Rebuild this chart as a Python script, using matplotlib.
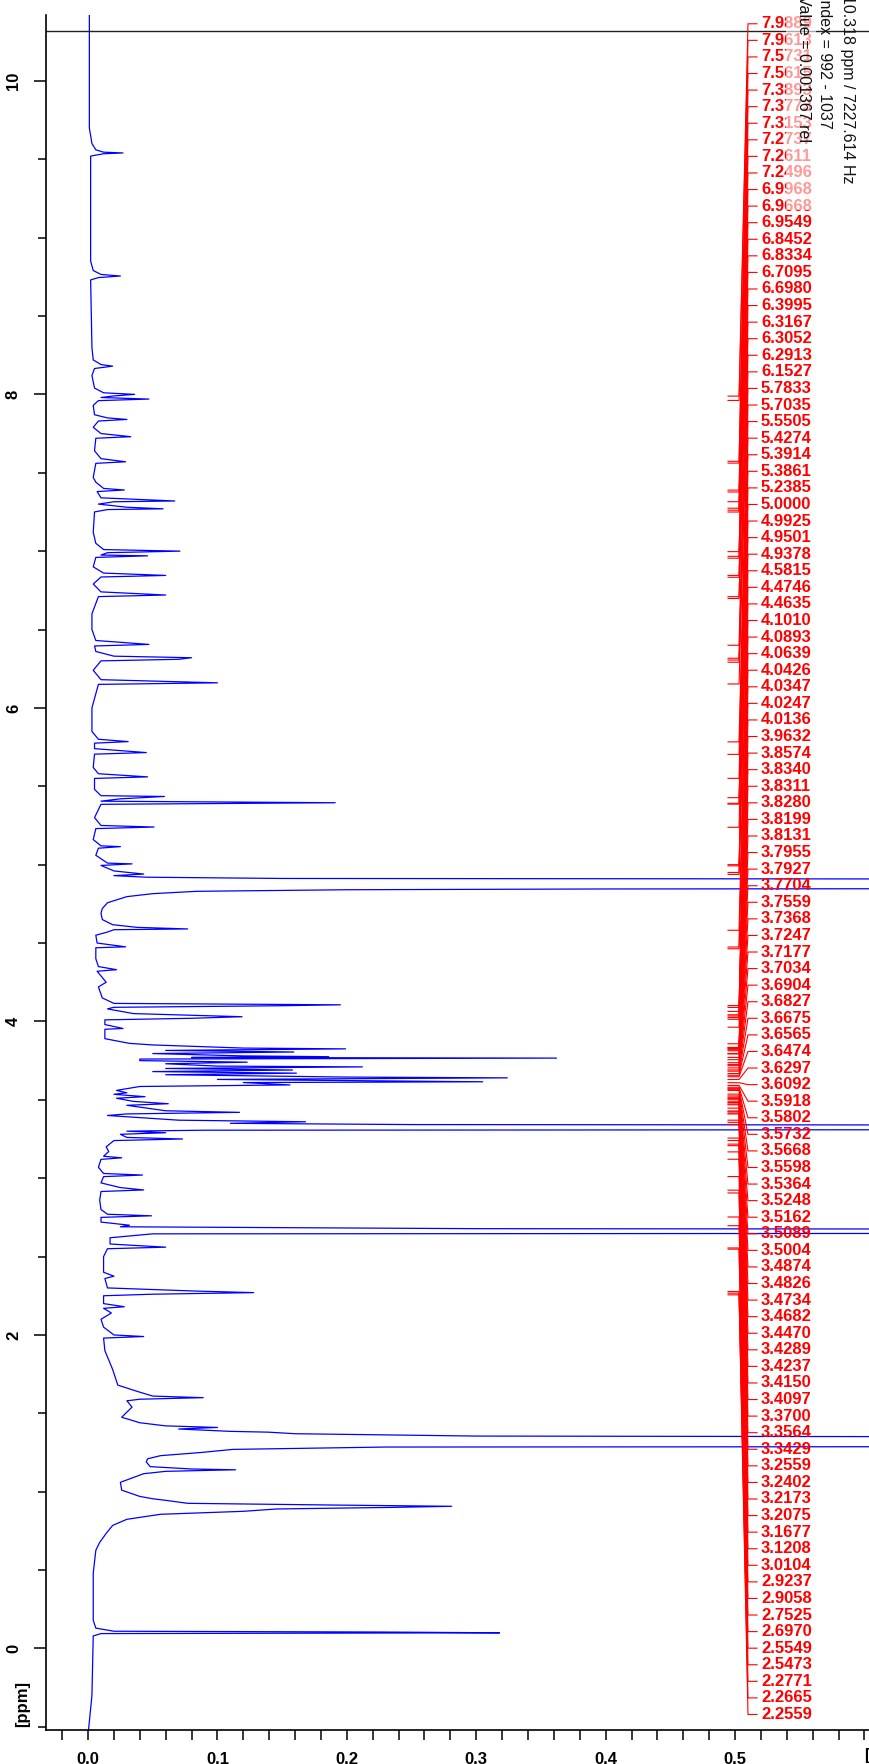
import numpy as np
import matplotlib
matplotlib.use("Agg")
import matplotlib.pyplot as plt
from matplotlib.patches import Rectangle
from matplotlib.ticker import MultipleLocator, FixedLocator, FuncFormatter

plt.rcParams['font.family'] = ['Liberation Sans', 'DejaVu Sans']

# spectrum trace: chemical shift [ppm] and intensity [rel]
trace_ppm = [
    10.45, 9.70, 9.60, 9.56, 9.545, 9.54, 9.535, 9.52,
    8.85, 8.79, 8.765, 8.755, 8.745, 8.73,
    8.30, 8.22, 8.19, 8.18, 8.165, 8.12,
    8.04, 8.01, 8.00, 7.99, 7.98, 7.97, 7.96, 7.93,
    7.87, 7.85, 7.84, 7.83, 7.79, 7.75, 7.73, 7.72,
    7.64, 7.59, 7.57, 7.56, 7.47, 7.44, 7.40, 7.39, 7.38,
    7.34, 7.32, 7.315, 7.30, 7.28, 7.27, 7.265, 7.25,
    7.12, 7.05, 7.01, 7.00, 6.99, 6.975, 6.97, 6.96,
    6.90, 6.86, 6.845, 6.835, 6.79, 6.74, 6.72, 6.71,
    6.60, 6.50, 6.43, 6.405, 6.395, 6.36, 6.33, 6.32, 6.31, 6.30,
    6.24, 6.18, 6.16, 6.15, 6.00,
    5.85, 5.80, 5.785, 5.775, 5.74, 5.715, 5.705,
    5.62, 5.58, 5.56, 5.55, 5.48, 5.44, 5.435, 5.42, 5.405, 5.395, 5.385,
    5.30, 5.25, 5.24, 5.23, 5.16, 5.12, 5.115, 5.105,
    5.06, 5.01, 5.005, 4.995, 4.96, 4.94, 4.93, 4.92, 4.912,
    4.905, 4.875, 4.85, 4.845, 4.84, 4.83, 4.815, 4.796, 4.757, 4.72, 4.69, 4.65,
    4.617, 4.60, 4.59, 4.585, 4.57, 4.55, 4.50, 4.476, 4.47,
    4.40, 4.35, 4.33, 4.32, 4.25, 4.22, 4.15,
    4.115, 4.106, 4.10, 4.09, 4.08, 4.05, 4.03, 4.02, 4.01,
    3.98, 3.955, 3.95, 3.89, 3.86, 3.85,
    3.83, 3.825, 3.815, 3.805, 3.795, 3.78, 3.775, 3.77, 3.766, 3.76,
    3.75, 3.74, 3.73, 3.715, 3.71, 3.70, 3.69, 3.68, 3.67, 3.66,
    3.645, 3.64, 3.63, 3.615, 3.61, 3.595, 3.585,
    3.56, 3.545, 3.535, 3.52, 3.51, 3.49, 3.475, 3.465,
    3.43, 3.42, 3.41, 3.40, 3.37, 3.36, 3.35, 3.342,
    3.336, 3.312, 3.306, 3.30, 3.29, 3.28, 3.26, 3.25, 3.24,
    3.20, 3.17, 3.14, 3.13, 3.12, 3.07, 3.03, 3.02, 3.01,
    2.97, 2.94, 2.925, 2.915, 2.86, 2.80, 2.77, 2.76, 2.75,
    2.72, 2.70, 2.69, 2.678, 2.672, 2.65, 2.645, 2.62, 2.58, 2.56, 2.55,
    2.50, 2.40, 2.375, 2.36, 2.30, 2.28, 2.27, 2.26, 2.25,
    2.20, 2.18, 2.17, 2.14, 2.10, 2.05, 2.00, 1.99, 1.98,
    1.90, 1.78, 1.68, 1.64, 1.61, 1.60, 1.59, 1.58, 1.54, 1.475,
    1.44, 1.42, 1.41, 1.40, 1.385, 1.38, 1.37, 1.355,
    1.345, 1.29, 1.285, 1.27, 1.25, 1.23, 1.21, 1.19, 1.16,
    1.145, 1.14, 1.13, 1.115, 1.06, 1.01, 0.97, 0.955, 0.945,
    0.926, 0.915, 0.907, 0.90, 0.89, 0.875, 0.856, 0.824, 0.785,
    0.734, 0.677, 0.626, 0.48, 0.18, 0.13, 0.11, 0.105, 0.10,
    0.095, 0.08, -0.30, -0.55,
]
trace_int = [
    0.001, 0.001, 0.003, 0.006, 0.012, 0.027, 0.012, 0.002,
    0.002, 0.004, 0.010, 0.025, 0.008, 0.002,
    0.003, 0.004, 0.010, 0.019, 0.005, 0.003,
    0.005, 0.012, 0.036, 0.020, 0.010, 0.047, 0.008, 0.004,
    0.005, 0.015, 0.030, 0.008, 0.004, 0.010, 0.033, 0.006,
    0.005, 0.010, 0.029, 0.006, 0.004, 0.006, 0.012, 0.028, 0.007,
    0.010, 0.067, 0.020, 0.008, 0.030, 0.058, 0.015, 0.005,
    0.004, 0.006, 0.012, 0.071, 0.015, 0.010, 0.046, 0.006,
    0.004, 0.012, 0.060, 0.010, 0.004, 0.010, 0.060, 0.008,
    0.003, 0.003, 0.006, 0.047, 0.005, 0.006, 0.020, 0.080, 0.070, 0.010,
    0.004, 0.010, 0.100, 0.008, 0.003,
    0.003, 0.008, 0.031, 0.005, 0.005, 0.045, 0.005,
    0.004, 0.008, 0.046, 0.005, 0.005, 0.010, 0.059, 0.025, 0.010, 0.191, 0.010,
    0.005, 0.010, 0.051, 0.006, 0.004, 0.010, 0.025, 0.008,
    0.006, 0.015, 0.034, 0.010, 0.020, 0.043, 0.020, 0.045, 0.150,
    1.200, 1.200, 1.200, 0.400, 0.200, 0.084, 0.050, 0.030, 0.015, 0.011, 0.010, 0.011,
    0.019, 0.038, 0.077, 0.020, 0.015, 0.006, 0.007, 0.029, 0.006,
    0.006, 0.008, 0.022, 0.007, 0.014, 0.008, 0.011,
    0.020, 0.195, 0.148, 0.020, 0.015, 0.035, 0.119, 0.080, 0.013,
    0.013, 0.027, 0.013, 0.013, 0.032, 0.050,
    0.120, 0.199, 0.060, 0.159, 0.050, 0.120, 0.186, 0.080, 0.362, 0.040,
    0.040, 0.123, 0.060, 0.100, 0.212, 0.060, 0.158, 0.050, 0.161, 0.060,
    0.200, 0.324, 0.100, 0.305, 0.120, 0.156, 0.040,
    0.022, 0.030, 0.020, 0.044, 0.022, 0.035, 0.062, 0.030,
    0.060, 0.117, 0.030, 0.015, 0.070, 0.168, 0.110, 0.250,
    1.200, 1.200, 0.090, 0.030, 0.060, 0.025, 0.030, 0.073, 0.020,
    0.014, 0.016, 0.012, 0.026, 0.010, 0.008, 0.012, 0.042, 0.012,
    0.010, 0.025, 0.043, 0.010, 0.009, 0.010, 0.015, 0.049, 0.010,
    0.010, 0.032, 0.025, 0.300, 1.200, 1.200, 0.050, 0.017, 0.017, 0.060, 0.015,
    0.012, 0.012, 0.020, 0.013, 0.015, 0.083, 0.128, 0.050, 0.012,
    0.012, 0.028, 0.012, 0.018, 0.010, 0.012, 0.020, 0.043, 0.012,
    0.013, 0.019, 0.023, 0.038, 0.050, 0.089, 0.040, 0.030, 0.034, 0.026,
    0.040, 0.060, 0.100, 0.070, 0.110, 0.139, 0.160, 0.300,
    1.200, 1.200, 0.230, 0.112, 0.087, 0.056, 0.046, 0.045, 0.048,
    0.080, 0.114, 0.060, 0.043, 0.025, 0.026, 0.040, 0.050, 0.060,
    0.077, 0.190, 0.281, 0.235, 0.146, 0.120, 0.056, 0.030, 0.019,
    0.014, 0.009, 0.006, 0.004, 0.004, 0.006, 0.020, 0.226, 0.318,
    0.010, 0.004, 0.003, 0.000,
]

# picked peaks (labels on the right)
peak_labels = [
    7.9889, 7.9613, 7.5731, 7.5615, 7.3893, 7.3773, 7.3153, 7.2737, 7.2611, 7.2496,
    6.9968, 6.9668, 6.9549, 6.8452, 6.8334, 6.7095, 6.6980, 6.3995, 6.3167, 6.3052,
    6.2913, 6.1527, 5.7833, 5.7035, 5.5505, 5.4274, 5.3914, 5.3861, 5.2385, 5.0000,
    4.9925, 4.9501, 4.9378, 4.5815, 4.4746, 4.4635, 4.1010, 4.0893, 4.0639, 4.0426,
    4.0347, 4.0247, 4.0136, 3.9632, 3.8574, 3.8340, 3.8311, 3.8280, 3.8199, 3.8131,
    3.7955, 3.7927, 3.7704, 3.7559, 3.7368, 3.7247, 3.7177, 3.7034, 3.6904, 3.6827,
    3.6675, 3.6565, 3.6474, 3.6297, 3.6092, 3.5918, 3.5802, 3.5732, 3.5668, 3.5598,
    3.5364, 3.5248, 3.5162, 3.5089, 3.5004, 3.4874, 3.4826, 3.4734, 3.4682, 3.4470,
    3.4289, 3.4237, 3.4150, 3.4097, 3.3700, 3.3564, 3.3429, 3.2559, 3.2402, 3.2173,
    3.2075, 3.1677, 3.1208, 3.0104, 2.9237, 2.9058, 2.7525, 2.6970, 2.5549, 2.5473,
    2.2771, 2.2665, 2.2559,
]

cursor_ppm = 10.318
header_lines = ["10.318 ppm / 7227.614 Hz", "Index = 992 - 1037", "Value = 0.001367 rel"]

fig = plt.figure(figsize=(8.7, 17.64), dpi=100)
ax = fig.add_axes([46 / 870, 1 - 1730 / 1764, 1 - 46 / 870, (1730 - 15) / 1764])

ax.plot(trace_int, trace_ppm, color="#0000ff", lw=0.9)
ax.axhline(cursor_ppm, color="#222222", lw=1.0)

ax.set_xlim(-0.0325, 0.6043)
ax.set_ylim(-0.52, 10.42)

# peak picking leaders + labels
n = len(peak_labels)
label_y = np.linspace(10.364, -0.421, n)
for p, ly in zip(peak_labels, label_y):
    ax.plot([0.4946, 0.5031, 0.5100, 0.5170], [p, p, ly, ly],
            color="red", lw=0.8, clip_on=False)
    ax.text(0.5200, ly, f"{p:.4f}", color="red", fontsize=12, fontweight="bold",
            va="center", ha="left", clip_on=False)

# axes styling
for s in ["top", "right"]:
    ax.spines[s].set_visible(False)
for s in ["left", "bottom"]:
    ax.spines[s].set_linewidth(1.2)

ax.yaxis.set_major_locator(FixedLocator([0, 2, 4, 6, 8, 10]))
ax.yaxis.set_minor_locator(MultipleLocator(0.5))
ax.yaxis.set_major_formatter(FuncFormatter(lambda v, pos: f"{int(round(v))}"))
ax.xaxis.set_major_locator(FixedLocator([0.0, 0.1, 0.2, 0.3, 0.4, 0.5]))
ax.xaxis.set_minor_locator(MultipleLocator(0.02))
ax.xaxis.set_major_formatter(FuncFormatter(lambda v, pos: f"{v:.1f}"))

ax.tick_params(axis="y", which="major", length=9, width=1.1, labelsize=12, pad=9,
               labelrotation=90)
ax.tick_params(axis="y", which="minor", length=6, width=1.1)
ax.tick_params(axis="x", which="both", length=7, width=1.1, labelsize=12, pad=9)
for lab in ax.get_xticklabels() + ax.get_yticklabels():
    lab.set_fontweight("bold")
for lab in ax.get_yticklabels():
    lab.set_va("center")

ax.text(-0.0285, -0.5, "[ppm]", transform=ax.get_yaxis_transform(), rotation=90,
        ha="center", va="bottom", fontsize=12, fontweight="bold")
ax.text(0.6, -0.0105, "[rel]", transform=ax.get_xaxis_transform(),
        ha="left", va="top", fontsize=12, fontweight="bold", clip_on=False)

# cursor readout in the top right corner, on a pale backing
fig.patches.append(Rectangle((786 / 870, 1 - 210 / 1764), 30 / 870, 210 / 1764,
                             transform=fig.transFigure, facecolor="white",
                             alpha=0.6, edgecolor="none", zorder=5))
xs = [848 / 870, 825 / 870, 804 / 870]
for x, s in zip(xs, header_lines):
    fig.text(x, 1.003, s, rotation=-90, ha="center", va="top", fontsize=11.5,
             color="#111111", zorder=6)

fig.savefig("out.png", dpi=100)
